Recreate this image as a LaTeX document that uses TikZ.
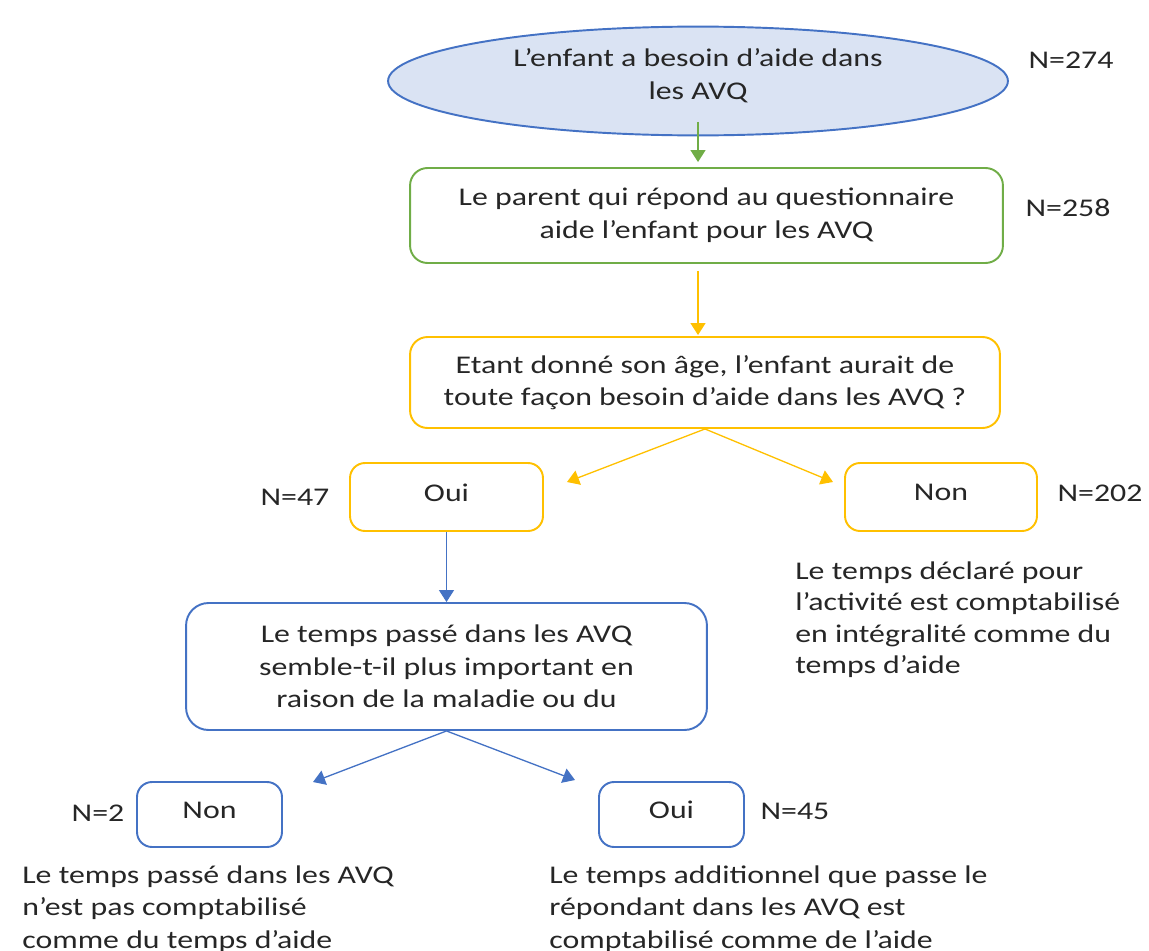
\documentclass[tikz,border=0pt]{standalone}
\usepackage{fontspec}
\setmainfont{Carlito}[FakeStretch=1.25]
\usepackage{tikz}
\usetikzlibrary{arrows.meta,shapes.geometric,positioning}
\definecolor{avqblue}{HTML}{4472C4}
\definecolor{avqfill}{HTML}{DAE3F3}
\definecolor{avqgreen}{HTML}{70AD47}
\definecolor{avqyellow}{HTML}{FFC000}
\tikzset{
    startnode/.style={draw=avqblue, fill=avqfill, ellipse, line width=1.1pt, minimum width=12.4cm, minimum height=2.14cm, align=center, text depth=8.3pt},
    qbox/.style={draw, line width=1.1pt, rounded corners=0.35cm, align=center},
    ansbox/.style={draw, line width=1.1pt, rounded corners=0.3cm, align=center, text depth=5pt},
    count/.style={inner sep=0pt},
    note/.style={anchor=north west, inner sep=0pt, align=left},
    flow/.style={-{Triangle[length=0.24cm, width=0.3cm]}, line width=0.75pt}
}

\begin{document}
\begin{tikzpicture}[x=0.02cm, y=-0.02cm, font=\fontsize{14.5pt}{18.6pt}\selectfont, text=black!85]
    \useasboundingbox (0,0) rectangle (1149,950);
    \node[startnode] (need) at (698,81) {L’enfant a besoin d’aide dans\\les AVQ};
    \node[qbox, draw=avqgreen, minimum width=11.86cm, minimum height=1.9cm] (parent) at (706.5,215.5) {Le parent qui répond au questionnaire\\aide l’enfant pour les AVQ};
    \node[qbox, draw=avqyellow, minimum width=11.8cm, minimum height=1.82cm] (age) at (705,382.5) {Etant donné son âge, l’enfant aurait de\\toute façon besoin d’aide dans les AVQ ?};
    \node[ansbox, draw=avqyellow, minimum width=3.86cm, minimum height=1.36cm] (oui) at (446.5,497) {Oui};
    \node[ansbox, draw=avqyellow, minimum width=3.84cm, minimum height=1.36cm] (non) at (941,497) {Non};
    \node[qbox, draw=avqblue, rounded corners=0.45cm, minimum width=10.42cm, minimum height=2.54cm] (time) at (446.5,666.5) {Le temps passé dans les AVQ\\semble-t-il plus important en\\raison de la maladie ou du};
    \node[ansbox, draw=avqblue, minimum width=2.9cm, minimum height=1.3cm] (tnon) at (209.5,814.5) {Non};
    \node[ansbox, draw=avqblue, minimum width=2.9cm, minimum height=1.3cm] (toui) at (671.5,814.5) {Oui};

    \node[count] (n1) at (1071,60) {N=274};
    \node[count] (n2) at (1068,208) {N=258};
    \node[count] (n3) at (295,497) {N=47};
    \node[count] (n4) at (1100,493) {N=202};
    \node[count] (n5) at (98,813) {N=2};
    \node[count] (n6) at (795,811) {N=45};

    \node[note, font=\fontsize{14.5pt}{18pt}\selectfont] (full) at (795,561) {Le temps déclaré pour\\l’activité est comptabilisé\\en intégralité comme du\\temps d’aide};
    \node[note] (nope) at (22,865) {Le temps passé dans les AVQ\\n’est pas comptabilisé\\comme du temps d’aide};
    \node[note] (extra) at (549,865) {Le temps additionnel que passe le\\répondant dans les AVQ est\\comptabilisé comme de l’aide};

    \coordinate (tipA) at (567,482);
    \coordinate (tipB) at (833,482);
    \coordinate (tipC) at (313,782);
    \coordinate (tipD) at (575,780);

    \draw[flow, avqgreen, shorten <=-0.29cm, shorten >=0.1cm] (need.south) -- (need.south |- parent.north);
    \draw[flow, avqyellow, shorten <=0.14cm, shorten >=0.02cm] (parent.south -| need.south) -- (need.south |- age.north);
    \draw[flow, avqyellow] (age.south) -- (tipA);
    \draw[flow, avqyellow] (age.south) -- (tipB);
    \draw[flow, avqblue] (oui.south) -- (time.north);
    \draw[flow, avqblue] (time.south) -- (tipC);
    \draw[flow, avqblue] (time.south) -- (tipD);
\end{tikzpicture}
\end{document}
